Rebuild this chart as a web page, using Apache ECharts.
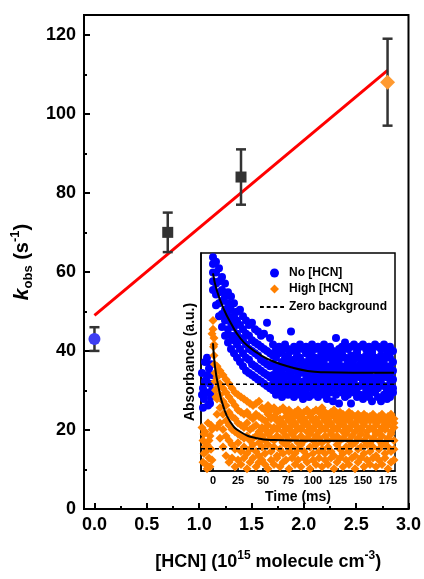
<!DOCTYPE html>
<html>
<head>
<meta charset="utf-8">
<script src="https://cdn.jsdelivr.net/npm/echarts@6/dist/echarts.min.js"></script>
<style>
  html, body { margin: 0; padding: 0; background: #fff; }
  #container { width: 424px; height: 579px; }
</style>
</head>
<body>
<div id="container"></div>
<script>
// main plot: k_obs vs [HCN]
var hcn = [0, 0.7, 1.4, 2.8];
var kObs = [43, 70, 84, 108];
var kLow = [40, 65, 77, 97];
var kHigh = [46, 75, 91, 119];
var fitLine = [[0, 49], [2.8, 111]];
var xMajor = [0, 0.5, 1, 1.5, 2, 2.5, 3];
var xMinor = [0.25, 0.75, 1.25, 1.75, 2.25, 2.75];
var yMajor = [0, 20, 40, 60, 80, 100, 120];
var yMinor = [10, 30, 50, 70, 90, 110];

// inset: absorbance traces (arbitrary units 0..100), rows are [time, values...]
var noHcnPre = [[-11,45],[-10,38],[-9,33],[-8,50],[-7,42],[-6,36],[-5,30],[-4,47],[-3,40],[-2,34],[-1,44],[-10,29],[-6,52],[-3,31],[-8,41],[-1,37],[-5,44],[-11,35],[-2,49]];
var noHcnCols = [
  [0,98,95,91,87,83],[3,96,91,86,81,76],[6,93,87,82,77,71],[9,89,83,78,72,66],[12,86,80,74,69,62],
  [15,82,77,71,65,59],[18,80,74,68,62,56],[21,77,71,66,60,54],[24,73,69,63,58,52],[27,74,67,61,56,50],
  [30,71,65,60,54,48],[33,69,63,58,52,46],[36,67,62,56,51,45],[39,68,60,55,49,44],[42,65,59,54,48,43],
  [45,64,58,53,47,42],[48,62,57,51,46,41],[51,63,56,50,45,40],[54,68,55,49,44,39],[57,61,54,48,43,38],
  [60,58,53,49,44,40,37],[63,56,52,47,43,38,35],[66,57,54,48,45,41,36],[69,55,50,46,42,39,34],
  [72,58,52,49,43,40,36],[75,56,53,47,44,38,35],[78,64,55,50,45,41,37],[81,57,51,48,42,39,34],
  [84,55,53,46,43,40,36],[87,58,52,49,45,38,35],[90,56,50,47,41,37,33],[93,57,54,48,44,40,36],
  [96,55,51,46,43,39,34],[99,58,53,49,42,38,35],[102,56,52,47,45,41,37],[105,57,50,48,43,39,34],
  [108,55,53,46,41,38,36],[111,58,51,49,44,40,35],[114,56,54,47,42,37,33],[117,57,52,48,45,39,36],
  [120,55,50,46,43,41,32],[123,61,53,49,44,38,35],[126,56,51,47,42,39,31],[129,57,54,48,45,40,36],
  [132,59,52,46,43,38,34],[135,56,50,49,41,37,35],[138,57,53,47,44,39,31],[141,58,51,48,42,40,36],
  [144,55,54,46,45,38,34],[147,57,52,49,43,39,35],[150,58,50,47,44,41,33],[153,56,53,48,42,38,36],
  [156,57,51,46,45,40,34],[159,55,54,49,43,37,32],[162,58,52,47,41,39,36],[165,57,50,48,44,38,34],
  [168,56,53,46,42,40,32],[171,58,51,49,45,39,35],[174,56,54,47,43,37,33],[177,57,52,48,44,40,34],
  [180,55,50,46,42,38,36]
];
var highHcnPre = [[-11,20],[-10,14],[-9,8],[-8,18],[-7,3],[-6,12],[-5,22],[-4,6],[-3,16],[-2,10],[-1,19],[-10,4],[-8,11],[-6,1],[-4,14],[-2,21],[-1,5],[-9,17],[-7,9],[-3,2]];
var highHcnSpike = [[0,69],[0,65],[1,61],[0.5,57],[1,53],[1.5,49],[2,45],[2,41],[2.5,37],[3,34],[-1,63],[1,58]];
var highHcnCols = [
  [4,48,43,38,33,26,20],[7,46,40,35,29,22,15],[10,44,38,32,26,19,11],[13,42,36,30,23,16,7],
  [16,40,34,27,21,14,4],[19,38,32,25,19,12,6],[22,36,30,24,18,10,2],[25,35,28,22,17,13,5],
  [28,34,27,21,16,9,3],[31,33,26,20,15,11,6],[34,32,27,22,16,8,1],[37,31,25,19,14,10,4],
  [40,30,24,20,15,12,6],[43,31,26,21,16,9,2],[46,32,25,18,13,7,4],[49,29,24,20,16,11,5],
  [52,28,23,19,14,8,3],[55,30,26,21,17,12,1],[58,28,24,18,15,9,5],[61,29,25,20,14,11,3],
  [64,27,23,19,16,7,6],[67,28,24,21,15,10,2],[70,29,22,18,13,8,4],[73,27,25,20,16,12,5],
  [76,28,23,19,14,9,1],[79,26,24,21,17,11,6],[82,27,22,18,15,8,3],[85,28,25,20,13,10,5],
  [88,26,23,19,16,12,2],[91,27,24,21,14,9,6],[94,28,22,18,15,7,4],[97,26,25,20,17,11,1],
  [100,27,23,19,14,8,5],[103,28,24,21,16,12,3],[106,27,22,18,15,9,6],[109,29,25,20,13,10,2],
  [112,27,23,19,16,8,5],[115,26,24,21,14,11,3],[118,27,22,18,17,9,6],[121,28,25,20,15,7,1],
  [124,26,23,19,16,12,4],[127,27,24,21,14,10,6],[130,26,22,18,15,8,2],[133,25,24,20,17,11,5],
  [136,27,23,19,14,9,3],[139,26,25,21,16,12,6],[142,25,22,18,13,7,1],[145,26,24,20,15,10,4],
  [148,25,23,19,17,11,6],[151,26,22,21,14,8,2],[154,24,25,18,16,12,5],[157,25,23,20,13,9,3],
  [160,26,24,19,15,11,6],[163,24,22,21,17,7,2],[166,25,23,18,14,10,5],[169,26,24,20,16,12,3],
  [172,24,22,19,13,8,6],[175,25,23,21,15,11,1],[178,26,24,18,17,9,4],[181,24,22,20,14,10,5]
];
var noHcnFit = [[0,90.7],[3.7,83],[10.4,74.6],[18.9,67],[27.3,60.9],[35.7,57],[47.5,53.2],[61,50.1],[77.8,47.6],[94.6,45.9],[111,45.3],[140,45.1],[181,45.1]];
var highHcnFit = [[0,58.6],[2,47.8],[5.4,38.7],[10.4,29.5],[17.2,22.6],[27.3,18],[44,15],[61,14.2],[100,13.9],[181,13.8]];
var noHcnZero = 39.8;
var highHcnZero = 10.2;
var timeLabels = [0, 25, 50, 75, 100, 125, 150, 175];

function flatten(pre, cols) {
  var out = pre.slice();
  cols.forEach(function (c) {
    for (var i = 1; i < c.length; i++) out.push([c[0], c[i]]);
  });
  return out;
}

var FONT = 'Liberation Sans';
var dom = document.getElementById('container');
var myChart = echarts.init(dom);

var markerStyles = [
  { symbol: 'circle', symbolSize: 12, color: '#3d3df2' },
  { symbol: 'rect', symbolSize: 11, color: '#333333' },
  { symbol: 'rect', symbolSize: 11, color: '#333333' },
  { symbol: 'diamond', symbolSize: 15, color: '#ff9a30' }
];

var legendText = { fontFamily: FONT, fontWeight: 'bold', fontSize: 12, color: '#000' };

var option = {
  animation: false,
  grid: [
    { left: 84, top: 15, width: 327, height: 502, show: true, borderColor: '#000', borderWidth: 2, backgroundColor: 'transparent' },
    { left: 201, top: 253, width: 194, height: 218, show: true, borderColor: '#000', borderWidth: 1.5, backgroundColor: '#fff' }
  ],
  legend: [
    {
      orient: 'vertical', left: 265, top: 262, itemWidth: 9, itemHeight: 9, itemGap: 4,
      textStyle: Object.assign({ padding: [0, 0, 0, 5] }, legendText),
      data: [{ name: 'No [HCN]', icon: 'circle' }, { name: 'High [HCN]', icon: 'diamond' }]
    },
    {
      orient: 'vertical', left: 255, top: 296, itemWidth: 24, itemHeight: 2,
      textStyle: legendText,
      data: [{ name: 'Zero background', icon: 'path://M0,0h4v2h-4z M7,0h4v2h-4z M14,0h4v2h-4z M21,0h4v2h-4z' }]
    }
  ],
  xAxis: [
    {
      gridIndex: 0, type: 'value', min: -0.1, max: 3.0, position: 'bottom',
      axisLine: { onZero: false, lineStyle: { color: '#000', width: 2 } },
      axisTick: { inside: true, length: 6, customValues: xMajor, lineStyle: { color: '#000', width: 2 } },
      axisLabel: {
        customValues: xMajor, margin: 7, color: '#000', fontFamily: FONT, fontWeight: 'bold', fontSize: 18,
        formatter: function (v) { return v.toFixed(1); }
      },
      splitLine: { show: false },
      name: '[HCN] (10{sup|15} molecule cm{sup|-3})',
      nameLocation: 'middle',
      nameGap: 41,
      nameTextStyle: {
        color: '#000', fontFamily: FONT, fontWeight: 'bold', fontSize: 18, lineHeight: 24,
        padding: [0, 0, 0, 44],
        rich: { sup: { fontSize: 12, fontWeight: 'bold', fontFamily: FONT, color: '#000', verticalAlign: 'top', lineHeight: 12 } }
      }
    },
    {
      gridIndex: 0, type: 'value', min: -0.1, max: 3.0, position: 'bottom',
      axisLine: { show: false, onZero: false },
      axisTick: { inside: true, length: 3, customValues: xMinor, lineStyle: { color: '#000', width: 2 } },
      axisLabel: { show: false },
      splitLine: { show: false }
    },
    {
      gridIndex: 1, type: 'value', min: -12, max: 182, position: 'bottom',
      axisLine: { onZero: false, lineStyle: { color: '#000', width: 1.5 } },
      axisTick: { inside: true, length: 3, customValues: timeLabels, lineStyle: { color: '#000', width: 1.5 } },
      axisLabel: { customValues: timeLabels, margin: 4, color: '#000', fontFamily: FONT, fontWeight: 'bold', fontSize: 11 },
      splitLine: { show: false },
      name: 'Time (ms)',
      nameLocation: 'middle',
      nameGap: 19,
      nameTextStyle: { color: '#000', fontFamily: FONT, fontWeight: 'bold', fontSize: 14 }
    }
  ],
  yAxis: [
    {
      gridIndex: 0, type: 'value', min: 0, max: 125, position: 'left',
      axisLine: { show: true, onZero: false, lineStyle: { color: '#000', width: 2 } },
      axisTick: { show: true, inside: true, length: 6, customValues: yMajor, lineStyle: { color: '#000', width: 2 } },
      axisLabel: { customValues: yMajor, margin: 8, color: '#000', fontFamily: FONT, fontWeight: 'bold', fontSize: 18 },
      splitLine: { show: false },
      name: '{k|k}{sub|obs}{n| (s}{sup|-1}{n|)}',
      nameLocation: 'middle',
      nameRotate: 90,
      nameGap: 40,
      nameTextStyle: {
        color: '#000', fontFamily: FONT, fontWeight: 'bold', fontSize: 20, lineHeight: 26,
        rich: {
          k: { fontSize: 21, fontStyle: 'italic', fontWeight: 'bold', fontFamily: FONT, color: '#000' },
          sub: { fontSize: 13, fontWeight: 'bold', fontFamily: FONT, color: '#000', verticalAlign: 'bottom', lineHeight: 13 },
          n: { fontSize: 20, fontWeight: 'bold', fontFamily: FONT, color: '#000' },
          sup: { fontSize: 13, fontWeight: 'bold', fontFamily: FONT, color: '#000', verticalAlign: 'top', lineHeight: 13 }
        }
      }
    },
    {
      gridIndex: 0, type: 'value', min: 0, max: 125, position: 'left',
      axisLine: { show: false, onZero: false },
      axisTick: { show: true, inside: true, length: 3, customValues: yMinor, lineStyle: { color: '#000', width: 2 } },
      axisLabel: { show: false },
      splitLine: { show: false }
    },
    {
      gridIndex: 1, type: 'value', min: 0, max: 100, position: 'left',
      axisLine: { show: true, onZero: false, lineStyle: { color: '#000', width: 1.5 } },
      axisTick: { show: false },
      axisLabel: { show: false },
      splitLine: { show: false },
      name: 'Absorbance (a.u.)',
      nameLocation: 'middle',
      nameRotate: 90,
      nameGap: 4,
      nameTextStyle: { color: '#000', fontFamily: FONT, fontWeight: 'bold', fontSize: 14 }
    }
  ],
  series: [
    {
      type: 'line', xAxisIndex: 0, yAxisIndex: 0, data: fitLine, symbol: 'none',
      lineStyle: { color: '#ff0000', width: 3 }, z: 2
    },
    {
      type: 'custom', xAxisIndex: 0, yAxisIndex: 0, z: 3,
      data: hcn.map(function (x, i) { return [x, kObs[i], kLow[i], kHigh[i]]; }),
      renderItem: function (params, api) {
        var lo = api.coord([api.value(0), api.value(2)]);
        var hi = api.coord([api.value(0), api.value(3)]);
        var st = { stroke: '#333', lineWidth: 2.5 };
        return {
          type: 'group',
          children: [
            { type: 'line', shape: { x1: lo[0], y1: lo[1], x2: hi[0], y2: hi[1] }, style: st },
            { type: 'line', shape: { x1: lo[0] - 5, y1: lo[1], x2: lo[0] + 5, y2: lo[1] }, style: st },
            { type: 'line', shape: { x1: hi[0] - 5, y1: hi[1], x2: hi[0] + 5, y2: hi[1] }, style: st }
          ]
        };
      }
    },
    {
      type: 'scatter', xAxisIndex: 0, yAxisIndex: 0, z: 4,
      data: hcn.map(function (x, i) {
        var m = markerStyles[i];
        return { value: [x, kObs[i]], symbol: m.symbol, symbolSize: m.symbolSize, itemStyle: { color: m.color, opacity: 1 } };
      })
    },
    {
      name: 'No [HCN]', type: 'scatter', xAxisIndex: 2, yAxisIndex: 2,
      data: flatten(noHcnPre, noHcnCols), symbol: 'circle', symbolSize: 8,
      itemStyle: { color: '#0000ff', opacity: 1 }, z: 5
    },
    {
      name: 'High [HCN]', type: 'scatter', xAxisIndex: 2, yAxisIndex: 2,
      data: flatten(highHcnPre.concat(highHcnSpike), highHcnCols), symbol: 'diamond', symbolSize: 9,
      itemStyle: { color: '#ff8000', opacity: 1 }, z: 6
    },
    {
      name: 'Zero background', type: 'line', xAxisIndex: 2, yAxisIndex: 2, symbol: 'none',
      data: [[-12, noHcnZero], [182, noHcnZero]],
      lineStyle: { color: '#000', width: 1.5, type: [4, 3] }, itemStyle: { color: '#000' }, z: 7
    },
    {
      name: 'Zero background', type: 'line', xAxisIndex: 2, yAxisIndex: 2, symbol: 'none',
      data: [[-12, highHcnZero], [182, highHcnZero]],
      lineStyle: { color: '#000', width: 1.5, type: [4, 3] }, itemStyle: { color: '#000' }, z: 7
    },
    {
      type: 'line', xAxisIndex: 2, yAxisIndex: 2, symbol: 'none', smooth: true,
      data: noHcnFit, lineStyle: { color: '#000', width: 2 }, z: 8
    },
    {
      type: 'line', xAxisIndex: 2, yAxisIndex: 2, symbol: 'none', smooth: true,
      data: highHcnFit, lineStyle: { color: '#000', width: 2 }, z: 8
    }
  ]
};

if (option && typeof option === 'object') {
  myChart.setOption(option, true);
}
</script>
</body>
</html>
